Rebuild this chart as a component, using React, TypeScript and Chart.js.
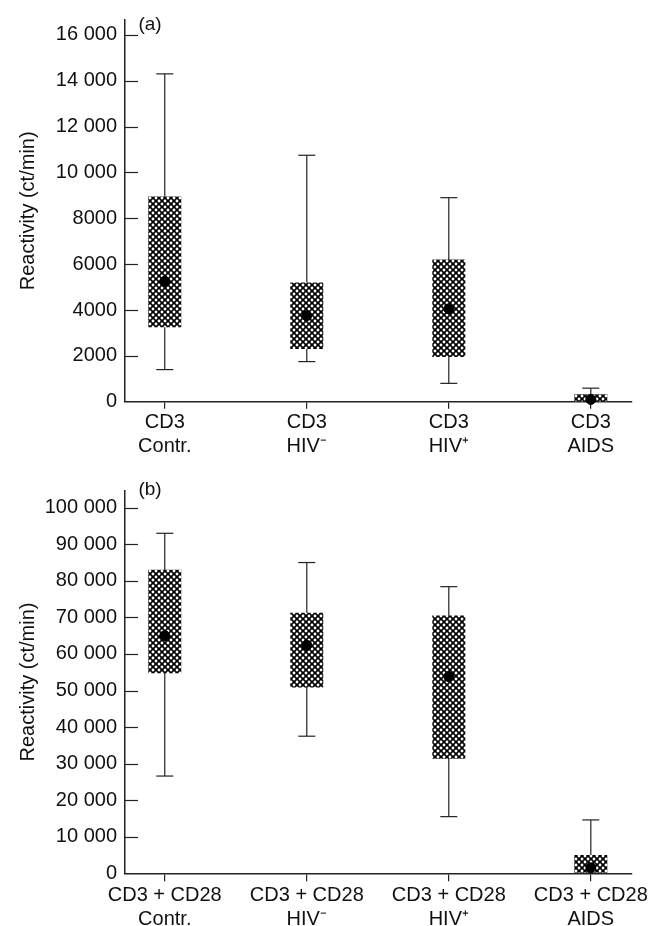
import React, { useEffect, useRef } from "react";
import { Chart, registerables } from "chart.js";

Chart.register(...registerables);

const FONT = '"Liberation Sans", Arial, Helvetica, sans-serif';

// ---- Panel (a): CD3 ----
const categoriesA = [["CD3", "Contr."], ["CD3", "HIV⁻"], ["CD3", "HIV⁺"], ["CD3", "AIDS"]];
const whiskerLowA = [1400, 1750, 800, 0];
const boxLowA = [3250, 2300, 1950, 0];
const medianA = [5250, 3750, 4050, 100];
const boxHighA = [8950, 5200, 6200, 320];
const whiskerHighA = [14300, 10750, 8900, 590];
const tickValuesA = [0, 2000, 4000, 6000, 8000, 10000, 12000, 14000, 16000];

// ---- Panel (b): CD3 + CD28 ----
const categoriesB = [
  ["CD3 + CD28", "Contr."],
  ["CD3 + CD28", "HIV⁻"],
  ["CD3 + CD28", "HIV⁺"],
  ["CD3 + CD28", "AIDS"],
];
const whiskerLowB = [26600, 37500, 15500, 0];
const boxLowB = [54700, 50800, 31300, 0];
const medianB = [65000, 62400, 53800, 1500];
const boxHighB = [83000, 71300, 70500, 5000];
const whiskerHighB = [93000, 85000, 78400, 14600];
const tickValuesB = [0, 10000, 20000, 30000, 40000, 50000, 60000, 70000, 80000, 90000, 100000];

const AXIS_TITLE = "Reactivity (ct/min)";

function formatTick(v: number): string {
  const s = String(Math.round(v));
  if (v >= 10000) return s.slice(0, s.length - 3) + " " + s.slice(-3);
  return s;
}

function makePattern(ctx: CanvasRenderingContext2D): CanvasPattern | string {
  const n = 6;
  const tile = document.createElement("canvas");
  tile.width = n;
  tile.height = n;
  const c = tile.getContext("2d");
  if (!c) return "#555";
  c.fillStyle = "#000";
  c.fillRect(0, 0, n, n);
  c.fillStyle = "#fff";
  const dots = [
    [0, 0],
    [n, 0],
    [0, n],
    [n, n],
    [n / 2, n / 2],
  ];
  for (const [x, y] of dots) {
    c.beginPath();
    c.arc(x, y, 1.45, 0, Math.PI * 2);
    c.fill();
  }
  return ctx.createPattern(tile, "repeat") || "#555";
}

type PanelProps = {
  categories: string[][];
  whiskerLow: number[];
  boxLow: number[];
  median: number[];
  boxHigh: number[];
  whiskerHigh: number[];
  tickValues: number[];
  yMax: number;
  tag: string;
  tagY: number;
  areaTop: number;
  xAxisHeight: number;
  xTickLen: number;
};

function Panel(p: PanelProps) {
  const ref = useRef<HTMLCanvasElement | null>(null);

  useEffect(() => {
    const canvas = ref.current;
    if (!canvas) return;
    const ctx = canvas.getContext("2d");
    if (!ctx) return;
    const pattern = makePattern(ctx);
    const idx = p.categories.map((_, i) => i);

    const decor = {
      id: "decor",
      afterDraw(chart: any) {
        const c = chart.ctx;
        const area = chart.chartArea;
        const y = chart.scales.y;
        c.save();
        c.strokeStyle = "#222";
        c.lineWidth = 1.2;
        for (const v of p.tickValues) {
          if (v === 0) continue;
          const py = Math.round(y.getPixelForValue(v)) + 0.5;
          c.beginPath();
          c.moveTo(area.left, py);
          c.lineTo(area.left + 13, py);
          c.stroke();
        }
        c.fillStyle = "#111";
        c.font = `19px ${FONT}`;
        c.textAlign = "center";
        c.textBaseline = "middle";
        c.fillText(p.tag, area.left + 25, p.tagY);
        c.restore();
      },
    };

    const chart = new Chart(canvas, {
      type: "bar",
      data: {
        datasets: [
          {
            type: "bar",
            label: "range",
            data: idx.map((i) => ({ x: i, y: [p.whiskerLow[i], p.whiskerHigh[i]] })) as any,
            backgroundColor: "#222",
            borderWidth: 0,
            maxBarThickness: 1.2,
            grouped: false,
            order: 4,
            clip: false,
          } as any,
          {
            type: "bar",
            label: "box",
            data: idx.map((i) => ({ x: i, y: [p.boxLow[i], p.boxHigh[i]] })) as any,
            backgroundColor: pattern as any,
            borderWidth: 0,
            maxBarThickness: 33,
            grouped: false,
            order: 3,
            clip: false,
          } as any,
          {
            type: "scatter",
            label: "caps",
            data: [
              ...idx.map((i) => ({ x: i, y: p.whiskerHigh[i] })),
              ...idx.filter((i) => p.whiskerLow[i] > 0).map((i) => ({ x: i, y: p.whiskerLow[i] })),
            ],
            pointStyle: "line",
            pointRadius: 8.5,
            pointBorderColor: "#222",
            pointBorderWidth: 1.2,
            order: 2,
            clip: false,
          } as any,
          {
            type: "scatter",
            label: "median",
            data: idx.map((i) => ({ x: i, y: p.median[i] })),
            pointStyle: "circle",
            pointRadius: 5,
            pointBackgroundColor: "#000",
            pointBorderColor: "#000",
            pointBorderWidth: 1,
            order: 1,
            clip: false,
          } as any,
        ],
      },
      options: {
        responsive: false,
        animation: false,
        events: [],
        layout: { padding: { top: p.areaTop, right: 28, left: 0, bottom: 0 } },
        plugins: {
          legend: { display: false },
          tooltip: { enabled: false },
        },
        scales: {
          x: {
            type: "linear",
            min: -0.28,
            max: 3.29,
            offset: false,
            grid: {
              offset: false,
              drawOnChartArea: false,
              drawTicks: true,
              tickLength: p.xTickLen,
              color: "#222",
              lineWidth: 1.2,
            },
            border: { display: true, color: "#222", width: 1.5 },
            ticks: {
              font: { family: FONT, size: 20 },
              color: "#111",
              padding: 2,
              maxRotation: 0,
              autoSkip: false,
              callback: (v: any) => p.categories[Math.round(Number(v))] as any,
            },
            afterBuildTicks: (axis: any) => {
              axis.ticks = idx.map((value) => ({ value }));
            },
            afterFit: (scale: any) => {
              scale.height = p.xAxisHeight;
            },
          } as any,
          y: {
            type: "linear",
            min: 0,
            max: p.yMax,
            grid: { drawOnChartArea: false, drawTicks: false },
            border: { display: true, color: "#222", width: 1.5 },
            ticks: {
              font: { family: FONT, size: 20 },
              color: "#111",
              padding: 8,
              callback: (v: any) => formatTick(Number(v)),
            },
            title: {
              display: true,
              text: AXIS_TITLE,
              font: { family: FONT, size: 20 },
              color: "#111",
              padding: { top: 16, bottom: 0 },
            },
            afterBuildTicks: (axis: any) => {
              axis.ticks = p.tickValues.map((value) => ({ value }));
            },
            afterFit: (scale: any) => {
              scale.width = 125;
            },
          } as any,
        },
      },
      plugins: [decor],
    } as any);

    return () => chart.destroy();
  }, []);

  return <canvas ref={ref} width={660} height={463} style={{ display: "block", width: 660, height: 463 }} />;
}

export default function App() {
  return (
    <div
      style={{
        position: "absolute",
        left: 0,
        top: 0,
        width: 660,
        height: 926,
        background: "#fff",
        overflow: "hidden",
      }}
    >
      <Panel
        categories={categoriesA}
        whiskerLow={whiskerLowA}
        boxLow={boxLowA}
        median={medianA}
        boxHigh={boxHighA}
        whiskerHigh={whiskerHighA}
        tickValues={tickValuesA}
        yMax={16650}
        tag="(a)"
        tagY={24.5}
        areaTop={20}
        xAxisHeight={61.3}
        xTickLen={7}
      />
      <Panel
        categories={categoriesB}
        whiskerLow={whiskerLowB}
        boxLow={boxLowB}
        median={medianB}
        boxHigh={boxHighB}
        whiskerHigh={whiskerHighB}
        tickValues={tickValuesB}
        yMax={104650}
        tag="(b)"
        tagY={27}
        areaTop={27.7}
        xAxisHeight={52.7}
        xTickLen={8}
      />
    </div>
  );
}
